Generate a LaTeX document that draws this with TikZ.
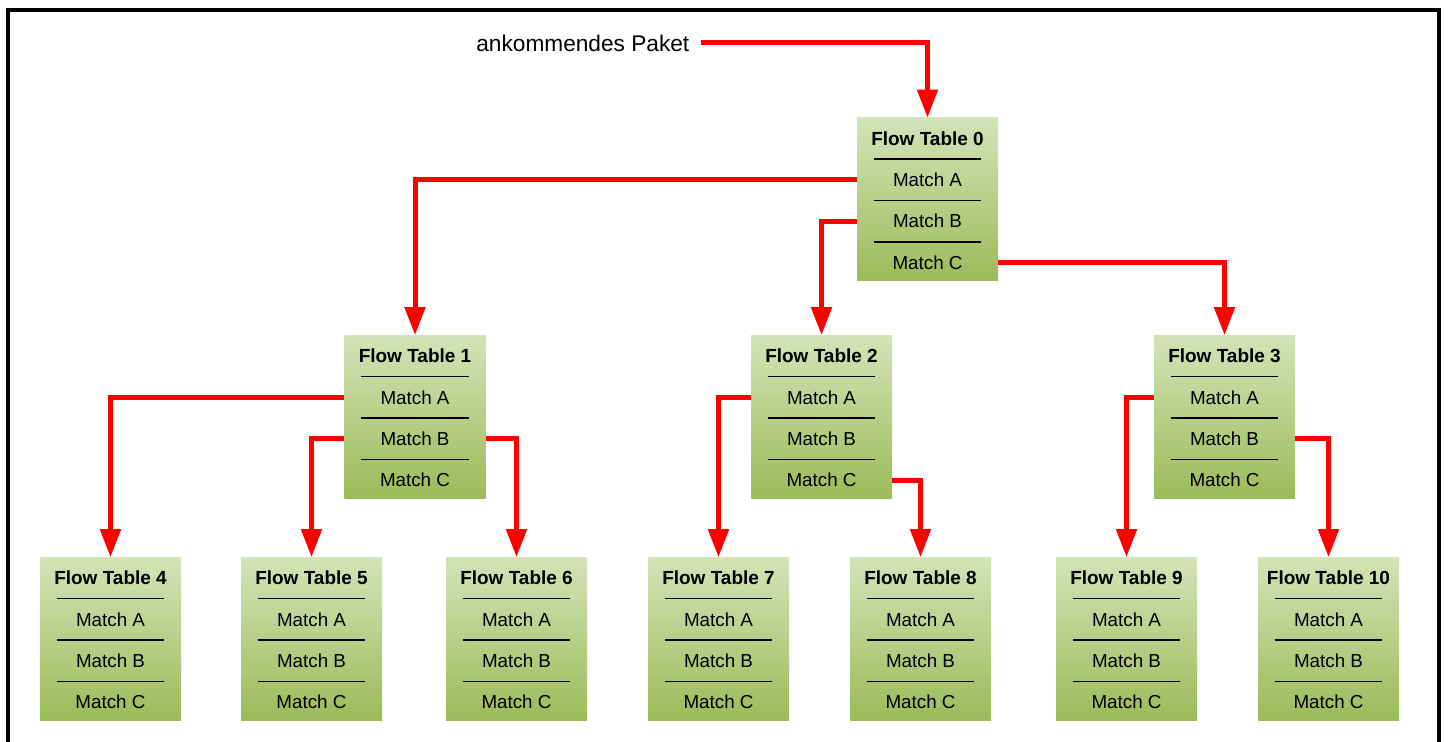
\documentclass[tikz,border=0pt]{standalone}
\usepackage{fontspec}
\setmainfont{Liberation Sans}
\usepackage{xcolor}
\usepackage{tikz}
\usetikzlibrary{arrows.meta,positioning}

\definecolor{ftTop}{RGB}{212,227,184}
\definecolor{ftBot}{RGB}{155,187,89}

\tikzset{
  tablebox/.style={draw=none, top color=ftTop, bottom color=ftBot,
    minimum width=28.2mm, minimum height=32.6mm, inner sep=0pt},
  tablerow/.style={inner sep=0pt, minimum width=21.4mm, minimum height=8.15mm,
    font=\fontsize{10.7}{12}\selectfont},
  tabletitle/.style={tablerow, font=\fontsize{10.8}{12}\selectfont\bfseries},
  sepline/.style={black, line width=0.8pt},
  link/.style={draw=red, line width=1mm,
    -{Triangle[width=4mm,length=5.6mm]}}
}

% one flow table: name, position, number
\newcommand{\flowtable}[3]{%
  \node[tablebox] (#1) at (#2) {};
  \node[tabletitle, anchor=north] (#1-t) at (#1.north) {Flow Table #3};
  \node[tablerow, below=0pt of #1-t] (#1-a) {Match A};
  \node[tablerow, below=0pt of #1-a] (#1-b) {Match B};
  \node[tablerow, below=0pt of #1-b] (#1-c) {Match C};
  \draw[sepline] (#1-a.north west) -- (#1-a.north east);
  \draw[sepline] (#1-b.north west) -- (#1-b.north east);
  \draw[sepline] (#1-c.north west) -- (#1-c.north east);
}

\begin{document}
\begin{tikzpicture}[x=0.2mm, y=-0.2mm]
\useasboundingbox (0,0) rectangle (1448,742);

% frame (open at the bottom)
\draw[line width=2.3pt] (8,742) -- (8,10) -- (1439,10) -- (1439,742);

% incoming packet
\node[anchor=west, inner ysep=0pt, inner xsep=2.2mm,
  font=\fontsize{12.9}{14}\selectfont] (pkt) at (465,43) {ankommendes Paket};

% level 0
\flowtable{t0}{927.5,199.5}{0}

% level 1
\flowtable{t1}{415,417}{1}
\flowtable{t2}{821.5,417}{2}
\flowtable{t3}{1224.5,417}{3}

% level 2
\flowtable{t4}{110.5,639}{4}
\flowtable{t5}{311.5,639}{5}
\flowtable{t6}{516.5,639}{6}
\flowtable{t7}{718.5,639}{7}
\flowtable{t8}{920.5,639}{8}
\flowtable{t9}{1126.5,639}{9}
\flowtable{t10}{1328.5,639}{10}

% connections
\draw[link] (pkt.east) -| (t0.north);
\draw[link] (t0-a -| t0.west) -| (t1.north);
\draw[link] (t0-b -| t0.west) -| (t2.north);
\draw[link] (t0-c -| t0.east) -| (t3.north);

\draw[link] (t1-a -| t1.west) -| (t4.north);
\draw[link] (t1-b -| t1.west) -| (t5.north);
\draw[link] (t1-b -| t1.east) -| (t6.north);
\draw[link] (t2-a -| t2.west) -| (t7.north);
\draw[link] (t2-c -| t2.east) -| (t8.north);
\draw[link] (t3-a -| t3.west) -| (t9.north);
\draw[link] (t3-b -| t3.east) -| (t10.north);
\end{tikzpicture}
\end{document}
